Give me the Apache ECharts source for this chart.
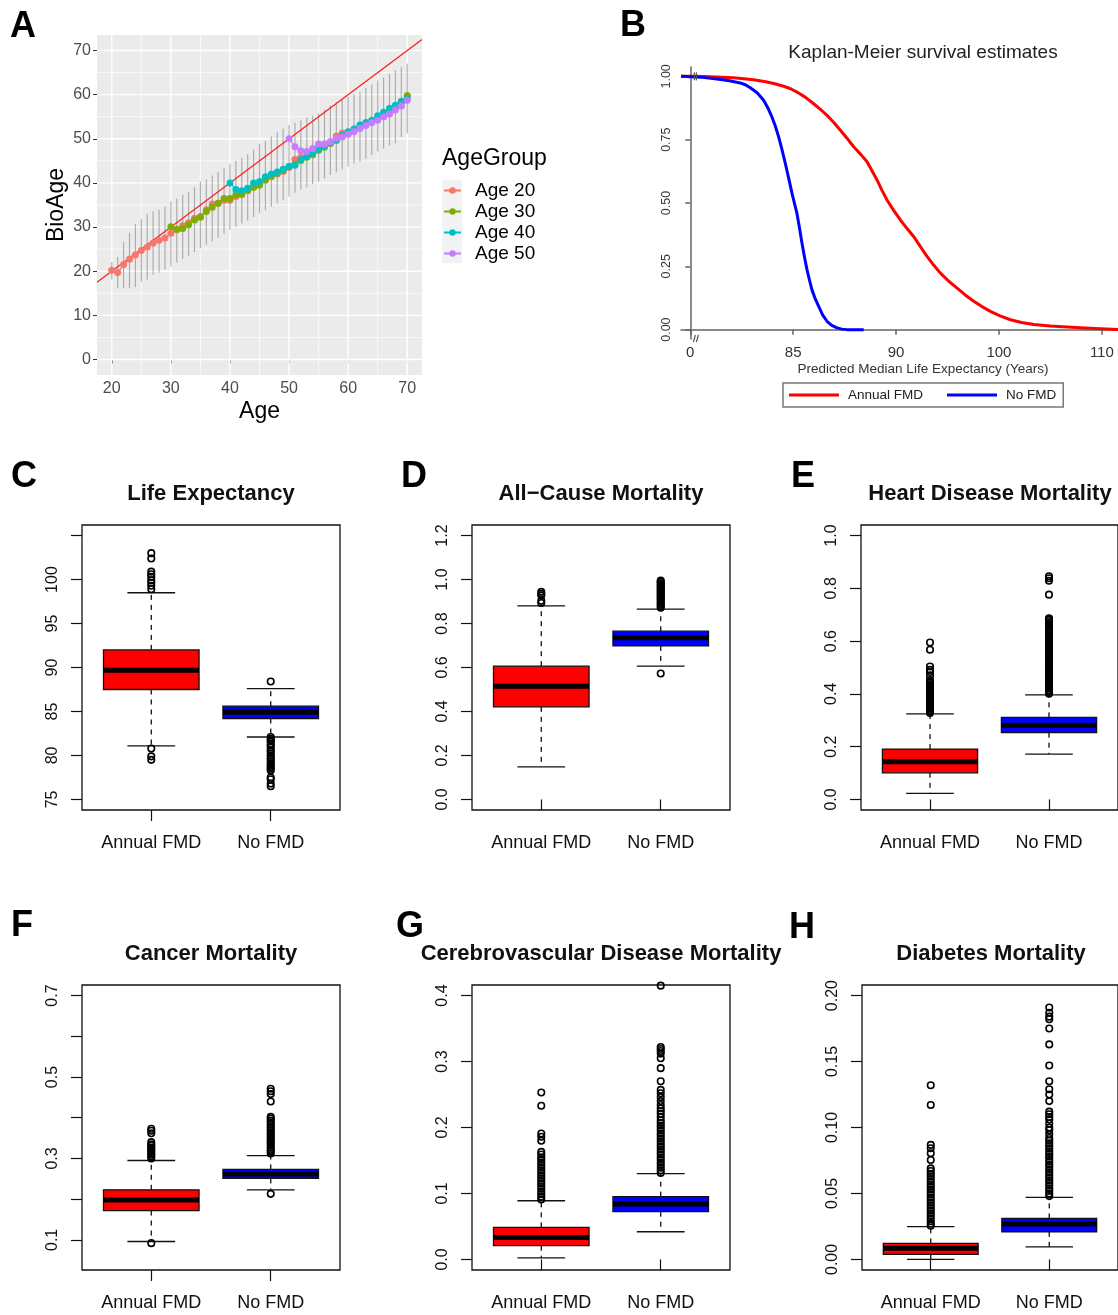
<!DOCTYPE html>
<html>
<head>
<meta charset="utf-8">
<script src="https://cdn.jsdelivr.net/npm/echarts@6/dist/echarts.min.js"></script>
<style>
html,body{margin:0;padding:0;background:#fff}
#chart{width:1118px;height:1315px}
</style>
</head>
<body>
<div id="chart"></div>
<script>
// ---------- Panel A: biological age by chronological age ----------
const ageGroupNames = ['Age 20', 'Age 30', 'Age 40', 'Age 50'];
const ageGroupStart = [20, 30, 40, 50];
const ageGroupColors = ['#F8766D', '#7CAE00', '#00BFC4', '#C77CFF'];
const bioAge20 = [20.2, 19.7, 21.5, 22.7, 23.7, 24.7, 25.5, 26.4, 27.0, 27.5,
  28.6, 29.4, 30.3, 31.0, 32.0, 32.4, 33.9, 35.2, 35.4, 36.1,
  36.1, 36.9, 37.3, 38.2, 39.0, 39.8, 40.6, 41.4, 42.0, 42.6,
  43.5, 45.3, 45.8, 46.2, 46.8, 48.2, 48.6, 49.3, 50.6, 51.3,
  51.5, 51.9, 52.6, 53.4, 54.0, 54.8, 55.3, 56.0, 57.2, 58.5, 59.5];
const bioAge30 = [30.1, 29.5, 29.7, 30.5, 31.6, 32.2, 33.5, 34.5, 35.4, 36.5,
  36.5, 37.3, 37.5, 38.4, 39.0, 39.5, 40.7, 41.6, 42.2, 42.8,
  43.7, 44.3, 45.1, 45.8, 46.4, 47.4, 48.1, 48.9, 49.6, 50.5,
  51.2, 51.9, 52.6, 53.3, 54.0, 54.7, 55.4, 56.1, 57.1, 58.4, 59.8];
const bioAge40 = [40.0, 38.5, 38.2, 38.8, 40.0, 40.3, 41.4, 42.0, 42.5, 43.1,
  43.7, 44.0, 45.3, 45.9, 46.7, 47.6, 48.3, 49.1, 49.8, 50.8,
  51.6, 52.2, 53.1, 53.7, 54.2, 55.2, 56.0, 56.9, 57.6, 58.4, 59.1];
const bioAge50 = [50.0, 48.2, 47.3, 47.1, 47.8, 48.8, 48.8, 49.3, 50.1, 50.4,
  51.0, 51.6, 52.3, 53.0, 53.6, 54.2, 55.0, 55.6, 56.5, 57.4, 58.7];
// vertical ranges drawn at each age 20..70
const bioAgeLow = [18.1, 16.2, 16.2, 16.2, 16.4, 17.6, 18.1, 19.2, 19.7, 20.4,
  21.1, 22.0, 22.8, 23.5, 24.3, 25.2, 26.0, 26.8, 27.6, 28.5,
  29.4, 30.0, 30.8, 31.5, 32.3, 33.1, 33.8, 34.6, 35.4, 36.1,
  36.9, 37.8, 38.5, 39.0, 39.7, 40.3, 41.0, 41.8, 42.5, 43.1,
  43.7, 44.4, 44.8, 45.5, 46.3, 47.1, 47.8, 48.5, 49.0, 50.4, 51.2];
const bioAgeHigh = [22.1, 23.2, 26.6, 28.7, 30.7, 31.8, 33.0, 33.6, 33.9, 34.6,
  35.8, 36.5, 37.3, 38.0, 39.0, 40.3, 40.8, 41.7, 42.5, 43.4,
  44.4, 45.0, 45.7, 46.5, 47.5, 48.9, 49.5, 50.5, 51.5, 52.3,
  53.1, 53.6, 54.2, 54.8, 55.2, 55.7, 56.6, 57.5, 58.3, 58.9,
  59.5, 60.1, 60.6, 61.5, 62.3, 63.2, 63.9, 64.7, 65.5, 66.2, 67.0];
const ageTicks = [20, 30, 40, 50, 60, 70];
const ageMinorTicks = [25, 35, 45, 55, 65];
const bioAgeTicks = [0, 10, 20, 30, 40, 50, 60, 70];
const bioAgeMinorTicks = [5, 15, 25, 35, 45, 55, 65];

// ---------- Panel B: Kaplan-Meier curves (x in axis tick positions) ----------
const kmTickLabels = ['0', '85', '90', '100', '110'];
const kmTickPos = [0, 1, 2, 3, 4];
const kmSurvTicks = [0, 0.25, 0.5, 0.75, 1];
const kmAnnualPos = [-0.09, 0.065, 0.25, 0.421, 0.616, 0.746, 0.83, 0.908, 0.975, 1.037,
  1.12, 1.199, 1.265, 1.329, 1.395, 1.459, 1.525, 1.588, 1.655, 1.718,
  1.765, 1.815, 1.862, 1.912, 1.975, 2.042, 2.105, 2.172, 2.235, 2.301,
  2.365, 2.431, 2.51, 2.593, 2.675, 2.755, 2.835, 2.917, 3.01, 3.112,
  3.22, 3.339, 3.5, 3.663, 3.83, 3.987, 4.16];
const kmAnnualSurv = [1.0, 1.0, 0.998, 0.995, 0.987, 0.978, 0.970, 0.961, 0.951, 0.938,
  0.917, 0.892, 0.870, 0.846, 0.818, 0.787, 0.755, 0.722, 0.693, 0.663,
  0.628, 0.591, 0.551, 0.512, 0.472, 0.433, 0.400, 0.367, 0.329, 0.289,
  0.255, 0.223, 0.192, 0.164, 0.136, 0.112, 0.091, 0.072, 0.054, 0.039,
  0.028, 0.020, 0.014, 0.010, 0.006, 0.003, 0.0];
const kmNoPos = [-0.09, 0.097, 0.259, 0.38, 0.486, 0.54, 0.583, 0.65, 0.713, 0.755,
  0.794, 0.828, 0.859, 0.892, 0.924, 0.957, 0.989, 1.013, 1.037, 1.062,
  1.086, 1.11, 1.135, 1.16, 1.183, 1.215, 1.248, 1.285, 1.329, 1.375,
  1.426, 1.475, 1.524, 1.686];
const kmNoSurv = [1.0, 0.997, 0.990, 0.983, 0.974, 0.966, 0.955, 0.935, 0.906, 0.875,
  0.840, 0.802, 0.761, 0.710, 0.656, 0.597, 0.538, 0.498, 0.459, 0.400,
  0.341, 0.287, 0.236, 0.193, 0.157, 0.121, 0.092, 0.059, 0.033, 0.017,
  0.007, 0.002, 0.0, 0.0];

// ---------- Panels C-H: box plots [lower whisker, Q1, median, Q3, upper whisker] ----------
const groupNames = ['Annual FMD', 'No FMD'];
const groupColors = ['#FF0000', '#0000FF'];

const lifeExpAnnual = [81.1, 87.5, 89.7, 92.0, 98.5];
const lifeExpNo = [82.1, 84.2, 84.9, 85.6, 87.6];
const lifeExpOutAnnual = [103.0, 102.4, 100.9, 100.6, 100.3, 99.9, 99.6, 99.3, 98.9, 80.8, 79.9, 79.5];
const lifeExpOutNo = [88.4, 82.1, 81.9, 81.7, 81.6, 81.3, 81.1, 80.9, 80.6, 80.5, 80.2, 80.0, 79.7,
  79.6, 79.3, 79.1, 78.9, 78.7, 78.5, 78.3, 77.5, 77.3, 76.8, 76.5];

const allCauseAnnual = [0.148, 0.421, 0.515, 0.606, 0.880];
const allCauseNo = [0.606, 0.698, 0.735, 0.765, 0.865];
const allCauseOutAnnual = [0.944, 0.935, 0.927, 0.903, 0.893];
const allCauseOutNo = [0.573, 0.872, 0.878, 0.885, 0.890, 0.897, 0.903, 0.910, 0.916, 0.922, 0.929,
  0.935, 0.941, 0.948, 0.954, 0.960, 0.966, 0.972, 0.978, 0.984, 0.990, 0.995];

const heartAnnual = [0.023, 0.101, 0.143, 0.191, 0.324];
const heartNo = [0.172, 0.253, 0.281, 0.311, 0.396];
const heartOutAnnual = [0.328, 0.334, 0.340, 0.346, 0.352, 0.358, 0.364, 0.370, 0.376, 0.382, 0.388,
  0.394, 0.400, 0.406, 0.412, 0.418, 0.424, 0.431, 0.437, 0.443, 0.452, 0.470, 0.483, 0.491,
  0.504, 0.567, 0.595];
const heartOutNo = [0.401, 0.407, 0.414, 0.420, 0.427, 0.433, 0.440, 0.447, 0.453, 0.460, 0.466,
  0.473, 0.480, 0.486, 0.493, 0.500, 0.506, 0.512, 0.519, 0.526, 0.532, 0.539, 0.546, 0.552,
  0.558, 0.565, 0.572, 0.578, 0.585, 0.592, 0.598, 0.605, 0.613, 0.620, 0.627, 0.633, 0.640,
  0.647, 0.655, 0.662, 0.668, 0.675, 0.681, 0.686, 0.776, 0.829, 0.838, 0.846];

const cancerAnnual = [0.096, 0.172, 0.198, 0.223, 0.295];
const cancerNo = [0.223, 0.251, 0.262, 0.273, 0.307];
const cancerOutAnnual = [0.092, 0.300, 0.305, 0.309, 0.313, 0.318, 0.322, 0.326, 0.331, 0.335, 0.340,
  0.362, 0.368, 0.373];
const cancerOutNo = [0.213, 0.312, 0.317, 0.321, 0.326, 0.331, 0.336, 0.340, 0.345, 0.350, 0.355,
  0.360, 0.364, 0.369, 0.374, 0.379, 0.384, 0.389, 0.393, 0.398, 0.402, 0.440, 0.458, 0.465, 0.471];

const cerebroAnnual = [0.0025, 0.0208, 0.0334, 0.0486, 0.089];
const cerebroNo = [0.042, 0.0724, 0.084, 0.0952, 0.130];
const cerebroOutAnnual = [0.091, 0.095, 0.099, 0.103, 0.107, 0.111, 0.115, 0.119, 0.123, 0.127,
  0.131, 0.135, 0.139, 0.143, 0.147, 0.151, 0.155, 0.159, 0.163, 0.180, 0.186, 0.191, 0.233, 0.253];
const cerebroOutNo = [0.131, 0.135, 0.139, 0.143, 0.147, 0.151, 0.155, 0.159, 0.163, 0.167, 0.171,
  0.175, 0.179, 0.183, 0.187, 0.191, 0.195, 0.199, 0.203, 0.207, 0.211, 0.216, 0.221, 0.225,
  0.229, 0.234, 0.240, 0.246, 0.252, 0.257, 0.270, 0.290, 0.305, 0.312, 0.316, 0.319, 0.322, 0.415];

const diabetesAnnual = [0.0, 0.0038, 0.0084, 0.0122, 0.0248];
const diabetesNo = [0.0096, 0.021, 0.0268, 0.0311, 0.0471];
const diabetesOutAnnual = [0.0255, 0.027, 0.029, 0.031, 0.033, 0.035, 0.037, 0.039, 0.041, 0.043,
  0.045, 0.047, 0.049, 0.051, 0.053, 0.055, 0.057, 0.059, 0.061, 0.063, 0.065, 0.067, 0.069,
  0.0754, 0.0805, 0.0843, 0.0868, 0.117, 0.132];
const diabetesOutNo = [0.048, 0.050, 0.052, 0.054, 0.056, 0.058, 0.060, 0.062, 0.064, 0.066, 0.068,
  0.070, 0.072, 0.074, 0.076, 0.078, 0.080, 0.082, 0.084, 0.086, 0.088, 0.090, 0.092, 0.095,
  0.098, 0.100, 0.103, 0.106, 0.108, 0.110, 0.112, 0.120, 0.125, 0.129, 0.135, 0.147, 0.163,
  0.175, 0.182, 0.184, 0.187, 0.191];

// ---------- layout ----------
const FONT = '"Liberation Sans", Arial, Helvetica, sans-serif';

const boxPanels = [
  { title: 'Life Expectancy', stats: [lifeExpAnnual, lifeExpNo], out: [lifeExpOutAnnual, lifeExpOutNo],
    grid: { left: 82, top: 525 }, yMin: 73.8, yMax: 106.2,
    ticks: [75, 80, 85, 90, 95, 100, 105], labels: [75, 80, 85, 90, 95, 100], digits: 0 },
  { title: 'All\u2212Cause Mortality', stats: [allCauseAnnual, allCauseNo], out: [allCauseOutAnnual, allCauseOutNo],
    grid: { left: 472, top: 525 }, yMin: -0.048, yMax: 1.248,
    ticks: [0, 0.2, 0.4, 0.6, 0.8, 1.0, 1.2], labels: [0, 0.2, 0.4, 0.6, 0.8, 1.0, 1.2], digits: 1 },
  { title: 'Heart Disease Mortality', stats: [heartAnnual, heartNo], out: [heartOutAnnual, heartOutNo],
    grid: { left: 861, top: 525 }, yMin: -0.04, yMax: 1.04,
    ticks: [0, 0.2, 0.4, 0.6, 0.8, 1.0], labels: [0, 0.2, 0.4, 0.6, 0.8, 1.0], digits: 1 },
  { title: 'Cancer Mortality', stats: [cancerAnnual, cancerNo], out: [cancerOutAnnual, cancerOutNo],
    grid: { left: 82, top: 985 }, yMin: 0.026, yMax: 0.726,
    ticks: [0.1, 0.2, 0.3, 0.4, 0.5, 0.6, 0.7], labels: [0.1, 0.3, 0.5, 0.7], digits: 1 },
  { title: 'Cerebrovascular Disease Mortality', stats: [cerebroAnnual, cerebroNo], out: [cerebroOutAnnual, cerebroOutNo],
    grid: { left: 472, top: 985 }, yMin: -0.016, yMax: 0.416,
    ticks: [0, 0.1, 0.2, 0.3, 0.4], labels: [0, 0.1, 0.2, 0.3, 0.4], digits: 1 },
  { title: 'Diabetes Mortality', stats: [diabetesAnnual, diabetesNo], out: [diabetesOutAnnual, diabetesOutNo],
    grid: { left: 862, top: 985 }, yMin: -0.008, yMax: 0.208,
    ticks: [0, 0.05, 0.1, 0.15, 0.2], labels: [0, 0.05, 0.1, 0.15, 0.2], digits: 2 }
];
const panelLetters = [
  ['A', 10, 27], ['B', 620, 26], ['C', 11, 477], ['D', 401, 477], ['E', 791, 477],
  ['F', 11, 926], ['G', 396, 927], ['H', 789, 928]
];

const grids = [
  { left: 97, top: 35, width: 325, height: 340, show: true, backgroundColor: '#EBEBEB', borderWidth: 0 },
  { left: 681, top: 67, width: 437, height: 272, show: false }
];
boxPanels.forEach(p => grids.push({
  left: p.grid.left, top: p.grid.top, width: 258, height: 285,
  show: true, borderColor: '#111', borderWidth: 1.3, backgroundColor: 'transparent'
}));

const xAxes = [
  { type: 'value', gridIndex: 0, min: 17.5, max: 72.5,
    axisLine: { show: false }, splitLine: { show: false },
    axisTick: { show: true, customValues: ageTicks, length: 4, lineStyle: { color: '#333', width: 1 } },
    axisLabel: { customValues: ageTicks, fontSize: 16, color: '#4D4D4D', margin: 6, fontFamily: FONT },
    name: 'Age', nameLocation: 'middle', nameGap: 25,
    nameTextStyle: { fontSize: 23, color: '#000', fontFamily: FONT } },
  { type: 'value', gridIndex: 1, min: -0.09, max: 4.157,
    axisLine: { show: true, lineStyle: { color: '#666', width: 1.5 } }, splitLine: { show: false },
    axisTick: { show: true, customValues: kmTickPos, length: 5, lineStyle: { color: '#666', width: 1.5 } },
    axisLabel: { customValues: kmTickPos, formatter: v => kmTickLabels[Math.round(v)],
      fontSize: 15, color: '#333', margin: 6, fontFamily: FONT } }
];
const yAxes = [
  { type: 'value', gridIndex: 0, min: -3.5, max: 73.5,
    axisLine: { show: false }, splitLine: { show: false },
    axisTick: { show: true, customValues: bioAgeTicks, length: 4, lineStyle: { color: '#333', width: 1 } },
    axisLabel: { customValues: bioAgeTicks, fontSize: 16, color: '#4D4D4D', margin: 6, fontFamily: FONT },
    name: 'BioAge', nameLocation: 'middle', nameGap: 29,
    nameTextStyle: { fontSize: 23, color: '#000', fontFamily: FONT } },
  { type: 'value', gridIndex: 1, min: -0.037, max: 1.037,
    axisLine: { show: true, lineStyle: { color: '#666', width: 1.5 } }, splitLine: { show: false },
    axisTick: { show: true, customValues: kmSurvTicks, length: 5, lineStyle: { color: '#666', width: 1.5 } },
    axisLabel: { customValues: kmSurvTicks, formatter: v => v.toFixed(2), rotate: 90,
      fontSize: 12.5, color: '#333', margin: 8, fontFamily: FONT } }
];
boxPanels.forEach((p, i) => {
  const gi = i + 2;
  xAxes.push({ type: 'value', gridIndex: gi, min: 0.42, max: 2.58,
    axisLine: { show: false }, splitLine: { show: false },
    axisTick: { show: true, customValues: [1, 2], length: 11, lineStyle: { color: '#111', width: 1.2 } },
    axisLabel: { customValues: [1, 2], formatter: v => groupNames[Math.round(v) - 1],
      fontSize: 18, color: '#111', margin: 24, fontFamily: FONT } });
  yAxes.push({ type: 'value', gridIndex: gi, min: p.yMin, max: p.yMax,
    axisLine: { show: false }, splitLine: { show: false },
    axisTick: { show: true, customValues: p.ticks, length: 11, lineStyle: { color: '#111', width: 1.2 } },
    axisLabel: { customValues: p.labels, formatter: v => v.toFixed(p.digits), rotate: 90,
      fontSize: 16, color: '#111', margin: 21, fontFamily: FONT } });
});

// ---------- series ----------
const series = [];

// panel A grid lines (white, major and minor)
function gridLineSeries(values, vertical, width) {
  return {
    type: 'custom', xAxisIndex: 0, yAxisIndex: 0, silent: true, z: 1,
    data: values.map(v => vertical ? [v, 0] : [20, v]),
    renderItem: (params, api) => {
      const cs = params.coordSys;
      const pt = api.coord([api.value(0), api.value(1)]);
      const shape = vertical
        ? { x1: pt[0], y1: cs.y, x2: pt[0], y2: cs.y + cs.height }
        : { x1: cs.x, y1: pt[1], x2: cs.x + cs.width, y2: pt[1] };
      return { type: 'line', shape, style: { stroke: '#FFFFFF', lineWidth: width } };
    }
  };
}
series.push(gridLineSeries(ageMinorTicks, true, 0.7));
series.push(gridLineSeries(bioAgeMinorTicks, false, 0.7));
series.push(gridLineSeries(ageTicks, true, 1.4));
series.push(gridLineSeries(bioAgeTicks, false, 1.4));

// panel A vertical ranges
series.push({
  type: 'custom', xAxisIndex: 0, yAxisIndex: 0, silent: true, z: 2,
  data: bioAgeLow.map((lo, i) => [20 + i, lo, bioAgeHigh[i]]),
  renderItem: (params, api) => {
    const a = api.coord([api.value(0), api.value(1)]);
    const b = api.coord([api.value(0), api.value(2)]);
    return { type: 'line', shape: { x1: a[0], y1: a[1], x2: b[0], y2: b[1] },
      style: { stroke: 'rgba(120,120,120,0.55)', lineWidth: 1.2 } };
  }
});

// panel A identity line (BioAge = Age)
series.push({
  type: 'line', name: 'identity', xAxisIndex: 0, yAxisIndex: 0, silent: true, z: 3,
  data: [[17.5, 17.5], [72.5, 72.5]], showSymbol: false, symbol: 'none',
  lineStyle: { color: '#FF2020', width: 1.3 }
});

// panel A group trajectories
[bioAge20, bioAge30, bioAge40, bioAge50].forEach((vals, g) => {
  series.push({
    type: 'line', name: ageGroupNames[g], xAxisIndex: 0, yAxisIndex: 0, z: 4,
    data: vals.map((v, i) => [ageGroupStart[g] + i, v]),
    symbol: 'circle', symbolSize: 7, showSymbol: true,
    itemStyle: { color: ageGroupColors[g] },
    lineStyle: { color: ageGroupColors[g], width: 1.2 }
  });
});

// panel B survival curves
series.push({
  type: 'line', name: 'Annual FMD', xAxisIndex: 1, yAxisIndex: 1,
  data: kmAnnualPos.map((x, i) => [x, kmAnnualSurv[i]]),
  showSymbol: false, symbol: 'none',
  itemStyle: { color: '#FF0000' }, lineStyle: { color: '#FF0000', width: 3, join: 'round' }
});
series.push({
  type: 'line', name: 'No FMD', xAxisIndex: 1, yAxisIndex: 1,
  data: kmNoPos.map((x, i) => [x, kmNoSurv[i]]),
  showSymbol: false, symbol: 'none',
  itemStyle: { color: '#0000FF' }, lineStyle: { color: '#0000FF', width: 3, join: 'round' }
});
// axis-break marks on the time axis and at the curve start
series.push({
  type: 'custom', xAxisIndex: 1, yAxisIndex: 1, silent: true, z: 5,
  data: [[0.05, -0.037, 0], [0.05, 1.0, 1]],
  renderItem: (params, api) => {
    const p = api.coord([api.value(0), api.value(1)]);
    const kind = api.value(2);
    const st = { stroke: '#555', lineWidth: 1.2 };
    if (kind === 0) {
      return { type: 'group', children: [
        { type: 'line', shape: { x1: p[0] - 2, y1: p[1] + 3, x2: p[0], y2: p[1] - 4 }, style: st },
        { type: 'line', shape: { x1: p[0] + 1, y1: p[1] + 3, x2: p[0] + 3, y2: p[1] - 4 }, style: st }
      ] };
    }
    return { type: 'group', children: [
      { type: 'line', shape: { x1: p[0] - 1, y1: p[1] - 4, x2: p[0] - 1, y2: p[1] + 4 }, style: st },
      { type: 'line', shape: { x1: p[0] + 1, y1: p[1] - 4, x2: p[0] + 1, y2: p[1] + 4 }, style: st }
    ] };
  }
});

// panels C-H box plots and outliers
boxPanels.forEach((p, i) => {
  const ax = i + 2;
  series.push({
    type: 'custom', name: 'box ' + p.title, xAxisIndex: ax, yAxisIndex: ax, silent: true, z: 3,
    data: p.stats.map((s, g) => [g + 1].concat(s)),
    renderItem: (params, api) => {
      const x = api.value(0);
      const lo = api.value(1), q1 = api.value(2), med = api.value(3), q3 = api.value(4), hi = api.value(5);
      const c = (xx, yy) => api.coord([xx, yy]);
      const pLo = c(x, lo), pQ1 = c(x, q1), pMed = c(x, med), pQ3 = c(x, q3), pHi = c(x, hi);
      const bl = c(x - 0.4, q3), br = c(x + 0.4, q1);
      const cl = c(x - 0.2, lo)[0], cr = c(x + 0.2, lo)[0];
      const dash = { stroke: '#111', lineWidth: 1.3, lineDash: [5, 5] };
      const solid = { stroke: '#111', lineWidth: 1.3 };
      return { type: 'group', children: [
        { type: 'line', shape: { x1: pQ1[0], y1: pQ1[1], x2: pLo[0], y2: pLo[1] }, style: dash },
        { type: 'line', shape: { x1: pQ3[0], y1: pQ3[1], x2: pHi[0], y2: pHi[1] }, style: dash },
        { type: 'line', shape: { x1: cl, y1: pLo[1], x2: cr, y2: pLo[1] }, style: solid },
        { type: 'line', shape: { x1: cl, y1: pHi[1], x2: cr, y2: pHi[1] }, style: solid },
        { type: 'rect', shape: { x: bl[0], y: bl[1], width: br[0] - bl[0], height: br[1] - bl[1] },
          style: { fill: groupColors[params.dataIndex], stroke: '#111', lineWidth: 1.3 } },
        { type: 'line', shape: { x1: bl[0], y1: pMed[1], x2: br[0], y2: pMed[1] },
          style: { stroke: '#000', lineWidth: 5 } }
      ] };
    }
  });
  series.push({
    type: 'scatter', name: 'outliers ' + p.title, xAxisIndex: ax, yAxisIndex: ax, silent: true, z: 4,
    data: p.out[0].map(v => [1, v]).concat(p.out[1].map(v => [2, v])),
    symbol: 'circle', symbolSize: 6.5,
    itemStyle: { color: 'rgba(0,0,0,0)', borderColor: '#000', borderWidth: 1.6, opacity: 1 }
  });
});

// ---------- text ----------
const graphics = [];
panelLetters.forEach(([t, x, y]) => graphics.push({
  type: 'text', x: x, y: y, silent: true,
  style: { text: t, font: 'bold 36px ' + FONT, fill: '#000', textAlign: 'left', textVerticalAlign: 'middle' }
}));
const titleCenters = [211, 601, 990, 211, 601, 991];
boxPanels.forEach((p, i) => graphics.push({
  type: 'text', x: titleCenters[i], y: i < 3 ? 494 : 954, silent: true,
  style: { text: p.title, font: 'bold 22px ' + FONT, fill: '#111', textAlign: 'center', textVerticalAlign: 'middle' }
}));
graphics.push({ type: 'text', x: 923, y: 53, silent: true,
  style: { text: 'Kaplan-Meier survival estimates', font: '19px ' + FONT, fill: '#222', textAlign: 'center', textVerticalAlign: 'middle' } });
graphics.push({ type: 'text', x: 923, y: 369, silent: true,
  style: { text: 'Predicted Median Life Expectancy (Years)', font: '13.5px ' + FONT, fill: '#333', textAlign: 'center', textVerticalAlign: 'middle' } });
graphics.push({ type: 'text', x: 442, y: 159, silent: true,
  style: { text: 'AgeGroup', font: '23px ' + FONT, fill: '#000', textAlign: 'left', textVerticalAlign: 'middle' } });
graphics.push({ type: 'rect', shape: { x: 442, y: 180, width: 20, height: 83 }, silent: true, z: -1,
  style: { fill: '#F2F2F2' } });

const option = {
  animation: false,
  backgroundColor: '#FFFFFF',
  textStyle: { fontFamily: FONT },
  grid: grids,
  xAxis: xAxes,
  yAxis: yAxes,
  legend: [
    { orient: 'vertical', left: 443, top: 180, itemGap: 0, itemWidth: 17, itemHeight: 8,
      data: ageGroupNames, selectedMode: false, padding: 0,
      textStyle: { fontSize: 19, lineHeight: 21, color: '#000', padding: [0, 0, 0, 9], fontFamily: FONT } },
    { orient: 'horizontal', left: 783, top: 383, itemGap: 24, itemWidth: 50, itemHeight: 3, icon: 'rect',
      data: ['Annual FMD', 'No FMD'], selectedMode: false,
      borderColor: '#777', borderWidth: 1.5, padding: [5, 7, 5, 6],
      textStyle: { fontSize: 13.5, color: '#222', padding: [0, 0, 0, 4], fontFamily: FONT } }
  ],
  graphic: graphics,
  series: series
};

const chart = echarts.init(document.getElementById('chart'), null, { renderer: 'canvas' });
chart.setOption(option);
</script>
</body>
</html>
